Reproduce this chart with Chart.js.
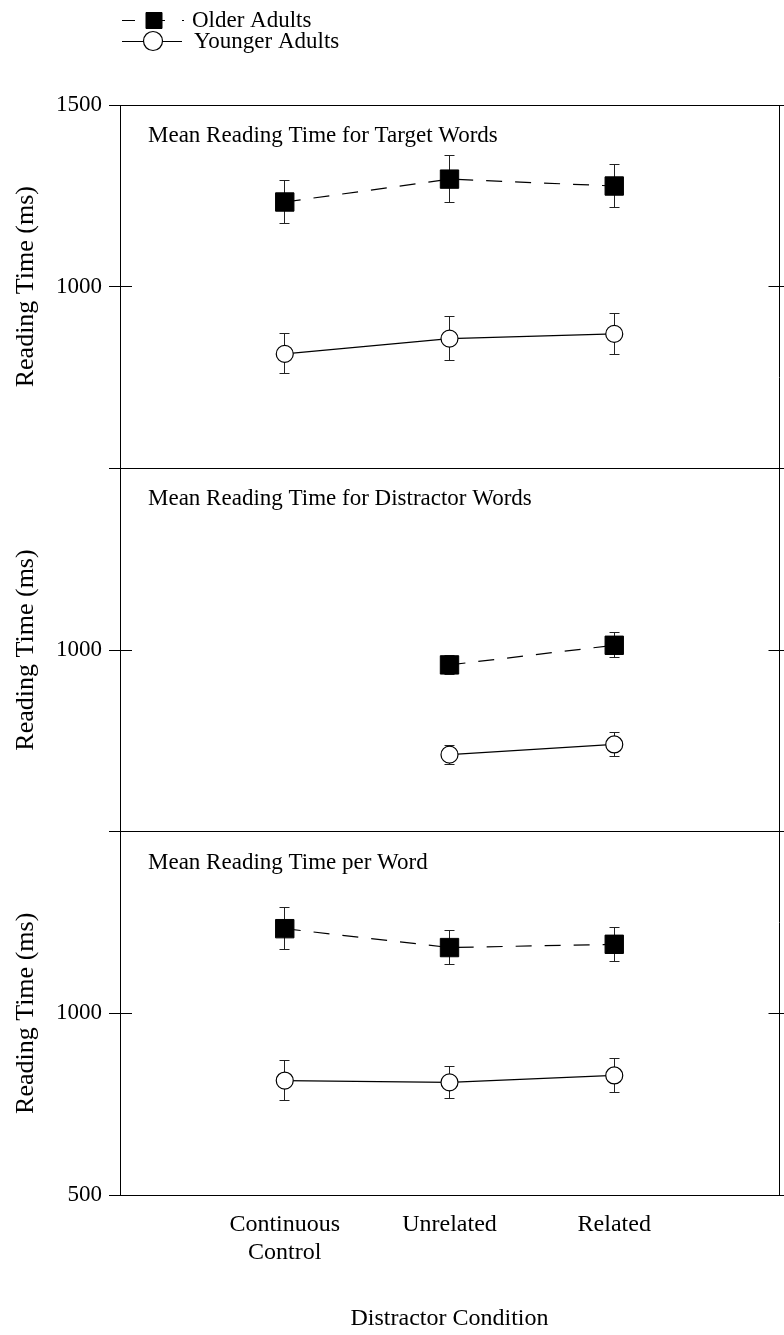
<!DOCTYPE html>
<html>
<head>
<meta charset="utf-8">
<title>Mean Reading Time</title>
<script src="https://cdn.jsdelivr.net/npm/chart.js@4.4.1/dist/chart.umd.min.js"></script>
<style>
  html, body { margin: 0; padding: 0; background: #fff; }
  #wrap { position: relative; width: 784px; height: 1335px; }
  canvas { display: block; }
</style>
</head>
<body>
<div id="wrap"><canvas id="chart" width="784" height="1335"></canvas></div>
<script>
// Distractor conditions along the x axis (linear positions 1..3)
const conditions = [['Continuous', 'Control'], 'Unrelated', 'Related'];
const conditionPos = [1, 2, 3];

const panelTitles = [
  'Mean Reading Time for Target Words',
  'Mean Reading Time for Distractor Words',
  'Mean Reading Time per Word'
];
const seriesNames = ['Older Adults', 'Younger Adults'];

// Target words (ms) and error half-widths
const targetOlder = [1233, 1296, 1277];
const targetOlderErr = [58, 65, 59];
const targetYounger = [815, 857, 870];
const targetYoungerErr = [55, 60, 57];

// Distractor words: no distractor in the continuous control condition
const distractorOlder = [null, 959, 1013];
const distractorOlderErr = [null, 27, 34];
const distractorYounger = [null, 712, 740];
const distractorYoungerErr = [null, 26, 32];

// Per word
const perWordOlder = [1233, 1181, 1190];
const perWordOlderErr = [58, 47, 47];
const perWordYounger = [815, 810, 829];
const perWordYoungerErr = [55, 45, 46];

// Y ticks for every panel, and which of them carry a label
const yTicks = [500, 1000, 1500];
const yTickLabelsShown = [[1000, 1500], [1000], [500, 1000]];

const FONT = "'Liberation Serif', 'Times New Roman', serif";
Chart.defaults.font.family = FONT;
Chart.defaults.color = '#000';

const panelAxes = ['yT', 'yM', 'yB'];
const panelSeries = [
  [targetOlder, targetOlderErr, targetYounger, targetYoungerErr],
  [distractorOlder, distractorOlderErr, distractorYounger, distractorYoungerErr],
  [perWordOlder, perWordOlderErr, perWordYounger, perWordYoungerErr]
];

function points(values, errs) {
  return values
    .map((v, i) => (v == null ? null : { x: conditionPos[i], y: v, e: errs[i] }))
    .filter(p => p);
}

const olderStyle = {
  borderColor: '#000', borderWidth: 1.2, borderDash: [16, 13],
  pointStyle: 'rect', pointRadius: 13, pointBackgroundColor: '#000',
  pointBorderColor: '#000', pointBorderWidth: 1
};
const youngerStyle = {
  borderColor: '#000', borderWidth: 1.2, borderDash: [],
  pointStyle: 'circle', pointRadius: 8.5, pointBackgroundColor: '#fff',
  pointBorderColor: '#000', pointBorderWidth: 1.2
};

const datasets = [];
panelSeries.forEach((s, idx) => {
  datasets.push(Object.assign({ label: seriesNames[0], yAxisID: panelAxes[idx], xAxisID: 'x', data: points(s[0], s[1]) }, olderStyle));
  datasets.push(Object.assign({ label: seriesNames[1], yAxisID: panelAxes[idx], xAxisID: 'x', data: points(s[2], s[3]) }, youngerStyle));
});

function yScale(idx) {
  return {
    type: 'linear', position: 'left', stack: 'panels', stackWeight: 1,
    min: 500, max: 1500,
    afterBuildTicks: s => { s.ticks = yTicks.map(v => ({ value: v })); },
    afterFit: s => { s.width = 120; s.paddingTop = 0; s.paddingBottom = 0; },
    ticks: {
      autoSkip: false, padding: 7, color: '#000',
      font: { family: FONT, size: 23 },
      callback: v => (yTickLabelsShown[idx].includes(v) ? String(v) : '')
    },
    grid: {
      drawOnChartArea: true, drawTicks: true, tickLength: 11, lineWidth: 1,
      tickColor: '#000',
      color: c => (c.tick && c.tick.value === 1000 ? 'rgba(0,0,0,0)' : '#000')
    },
    border: { display: true, color: '#000', width: 1 },
    title: {
      display: true, text: 'Reading Time (ms)', color: '#000',
      font: { family: FONT, size: 26 }, padding: { top: 11, bottom: 0 }
    }
  };
}

const snap = p => Math.round(p - 0.5) + 0.5;

// Error bars, drawn beneath the markers
const errorBars = {
  id: 'errorBars',
  beforeDatasetsDraw(chart) {
    const ctx = chart.ctx;
    const xs = chart.scales.x;
    ctx.save();
    ctx.strokeStyle = '#222';
    ctx.lineWidth = 1;
    chart.data.datasets.forEach(ds => {
      const ys = chart.scales[ds.yAxisID];
      ds.data.forEach(p => {
        const x = snap(xs.getPixelForValue(p.x));
        const yHi = ys.getPixelForValue(p.y + p.e);
        const yLo = ys.getPixelForValue(p.y - p.e);
        ctx.beginPath();
        ctx.moveTo(x, yHi); ctx.lineTo(x, yLo);
        ctx.moveTo(x - 5, snap(yHi)); ctx.lineTo(x + 5, snap(yHi));
        ctx.moveTo(x - 5, snap(yLo)); ctx.lineTo(x + 5, snap(yLo));
        ctx.stroke();
      });
    });
    ctx.restore();
  }
};

// Right frame, crossing tick marks and the panel headings
const frame = {
  id: 'frame',
  afterDraw(chart) {
    const ctx = chart.ctx;
    const area = chart.chartArea;
    const r = snap(area.right);
    const l = area.left;
    ctx.save();
    ctx.strokeStyle = '#000';
    ctx.lineWidth = 1;
    ctx.beginPath();
    ctx.moveTo(r, area.top); ctx.lineTo(r, area.bottom);
    panelAxes.forEach(id => {
      const s = chart.scales[id];
      yTicks.forEach(v => {
        const y = snap(s.getPixelForValue(v));
        ctx.moveTo(l, y); ctx.lineTo(l + 12, y);
        ctx.moveTo(r - 11, y); ctx.lineTo(r + 11, y);
      });
    });
    ctx.stroke();

    ctx.fillStyle = '#000';
    ctx.font = '23px ' + FONT;
    ctx.textBaseline = 'alphabetic';
    ctx.textAlign = 'left';
    panelAxes.forEach((id, idx) => {
      const s = chart.scales[id];
      ctx.fillText(panelTitles[idx], l + 28, s.top + 37);
    });
    ctx.restore();
  }
};

// Legend: line through marker, then the series name
const lineLegend = {
  id: 'lineLegend',
  afterDraw(chart) {
    const ctx = chart.ctx;
    const rows = [
      { ds: chart.data.datasets[0], y: 20, textX: 192, baseline: 27 },
      { ds: chart.data.datasets[1], y: 41, textX: 194, baseline: 48 }
    ];
    ctx.save();
    rows.forEach((row, i) => {
      const ds = row.ds;
      ctx.strokeStyle = ds.borderColor;
      ctx.lineWidth = ds.borderWidth;
      ctx.setLineDash(i === 0 ? [13, 17] : []);
      ctx.beginPath();
      ctx.moveTo(122, row.y + 0.5); ctx.lineTo(i === 0 ? 184 : 182, row.y + 0.5);
      ctx.stroke();
      ctx.setLineDash([]);
      ctx.fillStyle = ds.pointBackgroundColor;
      ctx.strokeStyle = ds.pointBorderColor;
      ctx.lineWidth = ds.pointBorderWidth;
      ctx.beginPath();
      if (ds.pointStyle === 'rect') {
        ctx.rect(146, row.y - 7.5, 16, 16);
      } else {
        ctx.arc(153, row.y, 9.5, 0, Math.PI * 2);
      }
      ctx.fill();
      ctx.stroke();
      ctx.fillStyle = '#000';
      ctx.font = '23px ' + FONT;
      ctx.textBaseline = 'alphabetic';
      ctx.fillText(ds.label, row.textX, row.baseline);
    });
    ctx.restore();
  }
};

new Chart(document.getElementById('chart'), {
  type: 'line',
  data: { datasets },
  options: {
    responsive: false,
    animation: false,
    devicePixelRatio: 1,
    layout: { autoPadding: false, padding: { top: 105, right: 5, left: 0, bottom: 0 } },
    elements: { line: { tension: 0, fill: false } },
    plugins: { legend: { display: false }, tooltip: { enabled: false }, title: { display: false } },
    scales: {
      x: {
        type: 'linear', position: 'bottom', min: 0, max: 4,
        afterBuildTicks: s => { s.ticks = conditionPos.map(v => ({ value: v })); },
        afterFit: s => { s.height = 140; s.paddingLeft = 0; s.paddingRight = 0; },
        ticks: {
          autoSkip: false, maxRotation: 0, padding: 15, color: '#000',
          font: { family: FONT, size: 24, lineHeight: 1.2 },
          callback: v => conditions[v - 1]
        },
        grid: { display: true, drawTicks: false, color: 'rgba(0,0,0,0)' },
        border: { display: true, color: '#000', width: 1 },
        title: {
          display: true, text: 'Distractor Condition', color: '#000',
          font: { family: FONT, size: 24 }, padding: { top: 0, bottom: 2 }
        }
      },
      yB: yScale(2),
      yM: yScale(1),
      yT: yScale(0)
    }
  },
  plugins: [errorBars, frame, lineLegend]
});
</script>
</body>
</html>
